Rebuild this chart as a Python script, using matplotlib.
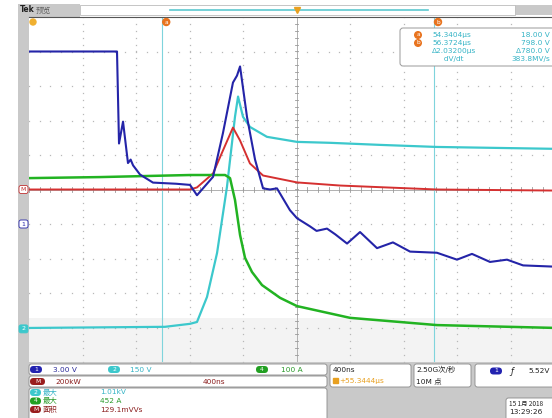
import numpy as np
import matplotlib.pyplot as plt
from matplotlib.patches import FancyBboxPatch, Rectangle, Circle

plt.rcParams['font.family'] = ['DejaVu Sans', 'Noto Sans CJK SC']

# 水平设置: 400ns/div, 中心 = 55.3444 μs
t_center = 55.3444
t_div = 0.4

# 通道1 (蓝) 3.00 V/div
ch1_ns = [-2000, -1342, -1327, -1297, -1260, -1240, -1222, -1170, -1073, -900, -796, -744,
          -624, -550, -475, -445, -422, -370, -310, -250, -198, -146, -49, 4, 100, 150, 228,
          290, 378, 475, 602, 721, 849, 1050, 1200, 1312, 1447, 1574, 1694, 1910]
ch1_v = [15.0, 15.0, 7.0, 8.9, 5.3, 5.6, 5.1, 4.3, 3.6, 3.5, 3.4, 2.5,
         4.1, 7.9, 12.3, 12.9, 13.7, 9.3, 5.6, 3.1, 3.0, 3.1, 1.2, 0.5, -0.2, -0.6, -0.4,
         -0.9, -1.7, -0.7, -2.1, -1.6, -2.4, -2.5, -3.1, -2.6, -3.3, -3.1, -3.6, -3.7]

# 通道2 (青) 150 V/div
ch2_ns = [-2000, -983, -796, -744, -669, -594, -520, -460, -437, -400, -348, -221, 4, 250, 624, 1050, 1910]
ch2_v = [4, 9, 22, 30, 139, 330, 617, 922, 1010, 922, 878, 835, 813, 809, 800, 791, 783]

# 通道4 (绿) 100 A/div
ch4_ns = [-2000, -1469, -796, -534, -497, -460, -422, -385, -333, -258, -123, 4, 400, 1050, 1910]
ch4_a = [443, 446, 452, 452, 443, 380, 278, 212, 171, 133, 96, 72, 38, 17, 9]

# 数学 M (红) 200 kW/div
m_ns = [-2000, -796, -744, -624, -550, -475, -422, -348, -250, 4, 325, 1050, 1910]
m_kw = [0, 0, 12, 93, 226, 359, 284, 151, 81, 41, 23, 0, -6]

# 每格刻度与零点位置(格)
scales = {'1': 3.0, '2': 150.0, '4': 100.0, 'M': 200.0}
offsets = {'1': -1.0, '2': -4.04, '4': -4.1, 'M': 0.0}

# 光标
cur_a = 54.3404
cur_b = 56.3724

W, H = 552, 418
fig = plt.figure(figsize=(W / 100, H / 100), dpi=100)

def px(x0, y0, w, h):
    return [x0 / W, 1 - (y0 + h) / H, w / W, h / H]

# 背景层 (像素坐标)
bg = fig.add_axes([0, 0, 1, 1], zorder=0)
bg.set_xlim(0, W)
bg.set_ylim(H, 0)
bg.axis('off')
gray = '#c9c9c9'
bg.add_patch(Rectangle((18, 362), W - 18, 56, color=gray, lw=0))
bg.add_patch(Rectangle((18, 17), 11, 345, color=gray, lw=0))
bg.add_patch(Rectangle((18, 4), 62, 13, color=gray, lw=0))
bg.add_patch(Rectangle((515, 5), 40, 10, color=gray, lw=0))
bg.add_patch(Rectangle((80, 5), 435, 10, facecolor='white', edgecolor='#bbbbbb', lw=0.6))
bg.plot([170, 428], [10, 10], color='#5cc8d0', lw=1.2)
bg.text(20, 10, 'Tek', fontsize=5.5, fontweight='bold', va='center', color='#222222')
bg.text(36, 10, '预览', fontsize=5.5, va='center', color='#666666')

# 波形区
ax = fig.add_axes(px(29, 17, 535, 345), zorder=1)
ax.set_xlim(t_center - 5 * t_div, t_center + 5 * t_div)
ax.set_ylim(-5, 5)
ax.set_facecolor('white')
for s in ax.spines.values():
    s.set_visible(False)
ax.spines['top'].set_visible(True)
ax.spines['top'].set_color('#555555')
ax.spines['top'].set_linewidth(0.8)
ax.set_xticks([])
ax.set_yticks([])
ax.axhspan(-5, -3.72, color='#f3f3f3', lw=0)

# 网格点
xs = t_center + t_div * np.arange(-5, 6)
ys = np.arange(-5, 6)
fine_x = t_center + t_div * np.arange(-5, 5.01, 0.2)
fine_y = np.arange(-5, 5.01, 0.2)
for gx in xs[1:-1]:
    if abs(gx - t_center) > 1e-9:
        ax.plot(np.full_like(fine_y, gx), fine_y, ls='none', marker='s', ms=0.9, color='#b8b8b8', mew=0)
for gy in ys[1:-1]:
    if gy != 0:
        ax.plot(fine_x, np.full_like(fine_x, gy), ls='none', marker='s', ms=0.9, color='#b8b8b8', mew=0)
ax.axhline(0, color='#b0b0b0', lw=0.7)
ax.axvline(t_center, color='#b0b0b0', lw=0.7)
for fx in fine_x:
    ax.plot([fx, fx], [-0.08, 0.08], color='#999999', lw=0.6)
for fy in fine_y:
    ax.plot([t_center - 0.008, t_center + 0.008], [fy, fy], color='#999999', lw=0.6)

# 光标线
ax.axvline(cur_a, color='#7fd4dc', lw=0.8)
ax.axvline(cur_b, color='#7fd4dc', lw=0.8)

def tr(ns, vals, ch):
    t = t_center + np.array(ns) / 1000.0
    y = np.array(vals, dtype=float) / scales[ch] + offsets[ch]
    return t, y

t, y = tr(ch2_ns, ch2_v, '2')
ax.plot(t, y, color='#3cc8cc', lw=1.6, zorder=3)
t, y = tr(m_ns, m_kw, 'M')
ax.plot(t, y, color='#d53030', lw=1.4, zorder=4)
t, y = tr(ch4_ns, ch4_a, '4')
ax.plot(t, y, color='#22b322', lw=1.8, zorder=5)
t, y = tr(ch1_ns, ch1_v, '1')
ax.plot(t, y, color='#2424a8', lw=1.5, zorder=6)

# 前景层
fg = fig.add_axes([0, 0, 1, 1], zorder=2)
fg.set_xlim(0, W)
fg.set_ylim(H, 0)
fg.axis('off')
fg.patch.set_alpha(0)

fs = 5.3
cyan_t = '#36b4c6'
blue_t = '#2b2b9a'
green_t = '#2a9a2a'
red_t = '#8b1e1e'
orange = '#e8731e'

def div_to_py(d):
    return 189.5 - d * 34.5

def t_to_px(tt):
    return 296.5 + (tt - t_center) / t_div * 53.5

# 通道零点标记
for ch, col, fill in [('M', '#c03030', False), ('1', '#2424a8', False), ('2', '#3cc8cc', True)]:
    yy = div_to_py(offsets[ch])
    fg.add_patch(FancyBboxPatch((19, yy - 4), 9, 8, boxstyle='round,pad=0,rounding_size=2',
                                facecolor=col if fill else 'white', edgecolor=col, lw=0.6))
    fg.text(23.5, yy, ch, fontsize=4.5, ha='center', va='center',
            color='white' if fill else col)

# 触发位置标记和光标标记
fg.plot([t_to_px(t_center)], [10], marker='v', ms=4, color='#e8a020')
fg.add_patch(Circle((33, 22), 3, color='#f0b030'))
for c, lab in [(cur_a, 'a'), (cur_b, 'b')]:
    xx = t_to_px(c) + 4
    fg.add_patch(Circle((xx, 22), 3.5, color=orange))
    fg.text(xx, 22, lab, fontsize=4.2, ha='center', va='center', color='white')

# 光标读数框
fg.add_patch(FancyBboxPatch((400, 28), 170, 38, boxstyle='round,pad=0,rounding_size=3',
                            facecolor='white', edgecolor='#999999', lw=0.7))
rows = [(35, 'a', '%.4fμs' % cur_a, '18.00 V'),
        (43, 'b', '%.4fμs' % cur_b, '798.0 V'),
        (51, None, 'Δ%.5fμs' % (cur_b - cur_a), 'Δ780.0 V'),
        (59, None, '     dV/dt', '383.8MV/s')]
for yy, lab, left, right in rows:
    if lab:
        fg.add_patch(Circle((418, yy), 3.3, color=orange))
        fg.text(418, yy, lab, fontsize=4.2, ha='center', va='center', color='white')
    fg.text(432, yy, left, fontsize=fs, va='center', color=cyan_t)
    fg.text(550, yy, right, fontsize=fs, va='center', ha='right', color=cyan_t)

def box(x0, y0, w, h):
    fg.add_patch(FancyBboxPatch((x0, y0), w, h, boxstyle='round,pad=0,rounding_size=2.5',
                                facecolor='white', edgecolor='#8a8a8a', lw=0.6))

def oval(x0, yy, lab, col, w=12):
    fg.add_patch(FancyBboxPatch((x0, yy - 3.5), w, 7, boxstyle='round,pad=0,rounding_size=3.5',
                                facecolor=col, edgecolor='none'))
    fg.text(x0 + w / 2, yy, lab, fontsize=4.3, ha='center', va='center', color='white')

# 底部状态栏
box(29, 364, 298, 11)
oval(30, 369.5, '1', '#2222b0')
fg.text(53, 369.5, '3.00 V', fontsize=fs, va='center', color=blue_t)
oval(108, 369.5, '2', '#3cc8cc')
fg.text(130, 369.5, '150 V', fontsize=fs, va='center', color=cyan_t)
oval(256, 369.5, '4', '#22a022')
fg.text(281, 369.5, '100 A', fontsize=fs, va='center', color=green_t)

box(29, 376, 298, 11)
oval(30, 381.5, 'M', '#9a1e1e', w=15)
fg.text(55, 381.5, '200kW', fontsize=fs, va='center', color=red_t)
fg.text(203, 381.5, '400ns', fontsize=fs, va='center', color=red_t)

box(29, 388, 298, 34)
meas = [(392.5, '2', '#3cc8cc', '最大', '1.01kV', cyan_t),
        (401, '4', '#22a022', '最大', '452 A', green_t),
        (409.5, 'M', '#9a1e1e', '面积', '129.1mVVs', red_t)]
for yy, lab, col, name, val, tc in meas:
    oval(30, yy, lab, col, w=11)
    fg.text(43, yy, name, fontsize=fs, va='center', color=tc)
    fg.text(100, yy, val, fontsize=fs, va='center', color=tc)

box(330, 364, 81, 23)
fg.text(333, 369.5, '400ns', fontsize=fs, va='center', color='#222222')
fg.add_patch(Rectangle((333, 378), 5, 5, color='#e8a020'))
fg.text(339, 380.5, '+%.4fμs' % t_center, fontsize=fs, va='center', color='#e8a020')

box(414, 364, 57, 23)
fg.text(416, 369.5, '2.50G次/秒', fontsize=fs, va='center', color='#222222')
fg.text(416, 380.5, '10M 点', fontsize=fs, va='center', color='#222222')

box(475, 364, 90, 23)
oval(490, 371, '1', '#2222b0')
fg.text(510, 371, 'ƒ', fontsize=6, va='center', color='#222222', style='italic')
fg.text(550, 371, '5.52V', fontsize=fs, va='center', ha='right', color='#222222')

box(506, 398, 60, 24)
fg.text(509, 404, '15 1月 2018', fontsize=4.6, va='center', color='#222222',
        family=['Noto Sans CJK SC'])
fg.text(509, 412.5, '13:29:26', fontsize=fs, va='center', color='#222222')

fig.savefig('out.png', dpi=100, facecolor='white')
